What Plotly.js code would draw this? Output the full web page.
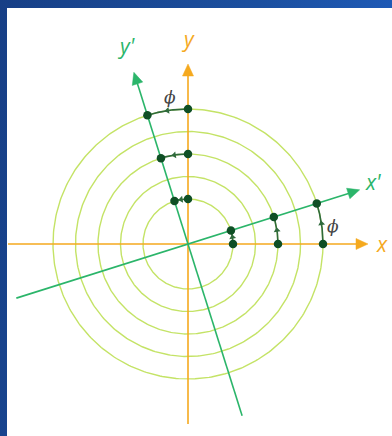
<!DOCTYPE html>
<html><head><meta charset="utf-8">
<script src="https://cdn.plot.ly/plotly-3.0.1.min.js"></script>
<style>
html,body{margin:0;padding:0;}
body{width:392px;height:436px;background:linear-gradient(100deg,#173f86 0%,#1b4f9f 55%,#1f5fc2 100%);}
#chart{width:392px;height:436px;}
</style></head>
<body><div id="chart"></div>
<script>
// ---- data ----
const circleRadii = [2, 3, 4, 5, 6];
const markedRadii = [2, 4, 6];
const rotationDeg = [17.5];
const axisHalfLength = [8];
const axisLabels = ["x", "y", "x'", "y'"];
const angleLabel = ["\u03D5"];

// ---- style ----
const PX = 22.5; // pixels per unit
const cCircle = '#c4e366', cOrange = '#f5a91e', cGreen = '#2bb56a', cDot = '#0f4f25', cArc = '#2f6a3c';
const phi = rotationDeg[0] * Math.PI / 180;
const L = axisHalfLength[0];
const traces = [];

// circles
circleRadii.forEach(r => {
  const xs = [], ys = [];
  for (let i = 0; i <= 360; i++) { const t = i * Math.PI / 180; xs.push(r * Math.cos(t)); ys.push(r * Math.sin(t)); }
  traces.push({x: xs, y: ys, mode: 'lines', line: {color: cCircle, width: 1.4}, hoverinfo: 'skip'});
});

function axisLine(ang, color) {
  const c = Math.cos(ang), s = Math.sin(ang);
  traces.push({x: [-L * c, L * c - 0.3 * c], y: [-L * s, L * s - 0.3 * s], mode: 'lines', line: {color: color, width: 1.6}, hoverinfo: 'skip'});
  const hl = 12 / PX, hw = 5.5 / PX;
  const tx = L * c, ty = L * s, bx = tx - hl * c, by = ty - hl * s;
  traces.push({x: [tx, bx - hw * s, bx + hw * s, tx], y: [ty, by + hw * c, by - hw * c, ty], mode: 'lines', fill: 'toself', fillcolor: color, line: {color: color, width: 0.5}, hoverinfo: 'skip'});
}
axisLine(0, cOrange);
axisLine(Math.PI / 2, cOrange);
axisLine(phi, cGreen);
axisLine(Math.PI / 2 + phi, cGreen);

// arcs with mid arrows, and dots
const dx = [], dy = [];
const mx = [], my = [], mang = [];
markedRadii.forEach(r => {
  [0, Math.PI / 2].forEach(a0 => {
    const xs = [], ys = [];
    for (let i = 0; i <= 30; i++) { const t = a0 + phi * i / 30; xs.push(r * Math.cos(t)); ys.push(r * Math.sin(t)); }
    traces.push({x: xs, y: ys, mode: 'lines', line: {color: cArc, width: 1.6}, hoverinfo: 'skip'});
    const tm = a0 + phi / 2;
    mx.push(r * Math.cos(tm)); my.push(r * Math.sin(tm));
    const dirDeg = (tm * 180 / Math.PI) + 90;
    mang.push(90 - dirDeg);
    dx.push(r * Math.cos(a0), r * Math.cos(a0 + phi));
    dy.push(r * Math.sin(a0), r * Math.sin(a0 + phi));
  });
});
traces.push({x: mx, y: my, mode: 'markers', marker: {symbol: 'triangle-up', size: 6, color: cArc, angle: mang}, hoverinfo: 'skip'});
traces.push({x: dx, y: dy, mode: 'markers', marker: {size: 8.5, color: cDot}, hoverinfo: 'skip'});

const fontLab = {family: 'Open Sans, sans-serif', size: 21};
const annotations = [
  {x: 8.6, y: 0, text: '<i>' + axisLabels[0] + '</i>', font: Object.assign({color: cOrange}, fontLab)},
  {x: 0, y: 9.1, text: '<i>' + axisLabels[1] + '</i>', font: Object.assign({color: cOrange}, fontLab)},
  {x: 8.2, y: 2.75, text: '<i>' + axisLabels[2] + '</i>', font: Object.assign({color: cGreen}, fontLab)},
  {x: -2.75, y: 8.8, text: '<i>' + axisLabels[3] + '</i>', font: Object.assign({color: cGreen}, fontLab)},
  {x: -0.8, y: 6.55, text: '<i>' + angleLabel[0] + '</i>', font: {family: 'DejaVu Serif, serif', size: 17, color: '#444'}},
  {x: 6.45, y: 0.8, text: '<i>' + angleLabel[0] + '</i>', font: {family: 'DejaVu Serif, serif', size: 17, color: '#444'}}
].map(a => Object.assign({showarrow: false, xref: 'x', yref: 'y'}, a));

const layout = {
  width: 392, height: 436,
  margin: {l: 7, r: 0, t: 8, b: 0, pad: 0},
  paper_bgcolor: 'rgba(0,0,0,0)', plot_bgcolor: '#ffffff',
  showlegend: false,
  xaxis: {range: [-(188 - 7) / PX, (392 - 188) / PX], visible: false, fixedrange: true},
  yaxis: {range: [-(436 - 244) / PX, (244 - 8) / PX], visible: false, fixedrange: true},
  annotations: annotations
};
Plotly.newPlot('chart', traces, layout, {displayModeBar: false, staticPlot: true});
</script></body></html>
